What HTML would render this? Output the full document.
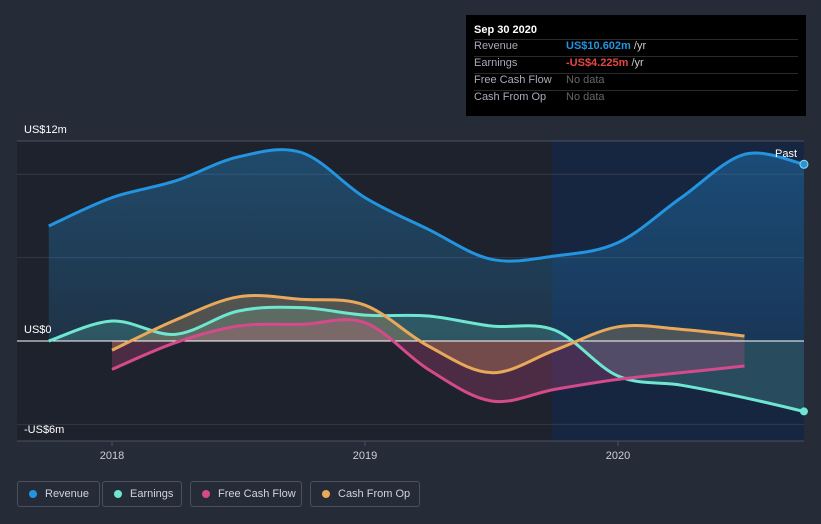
<!DOCTYPE html>
<html><head><meta charset="utf-8"><style>
body{margin:0;background:#262b38;font-family:"Liberation Sans",sans-serif;}
#wrap{position:relative;width:821px;height:524px;overflow:hidden;background:#262b38;}
svg{position:absolute;left:0;top:0}
.tt{position:absolute;left:466px;top:15px;width:340px;height:101px;background:#000;color:#fff;font-size:11px}
.tt .r{position:absolute;left:8px;height:17px;width:324px;border-top:1px solid #2a2a2a}
.tt .r span{position:absolute;left:92px}
.leg{position:absolute;top:481px;height:26px;border:1px solid #4a5060;border-radius:3px;color:#d0d4dc;font-size:11px;line-height:24px;box-sizing:border-box;padding-left:27px;white-space:nowrap}
.leg i{position:absolute;left:11px;top:8px;width:8px;height:8px;border-radius:50%}
</style></head><body>
<div id="wrap">
<svg id="chart" width="821" height="524"></svg>
<div class="tt">
 <div style="position:absolute;left:8px;top:9px;font-weight:bold">Sep 30 2020</div>
 <div class="r" style="top:24px;color:#aab">Revenue<span style="color:#2394df;font-weight:bold">US$10.602m <b style="color:#ccc;font-weight:normal">/yr</b></span></div>
 <div class="r" style="top:41px;color:#aab">Earnings<span style="color:#e64545;font-weight:bold">-US$4.225m <b style="color:#ccc;font-weight:normal">/yr</b></span></div>
 <div class="r" style="top:58px;color:#aab">Free Cash Flow<span style="color:#666">No data</span></div>
 <div class="r" style="top:75px;color:#aab">Cash From Op<span style="color:#666">No data</span></div>
</div>
<div class="leg" style="left:17px;width:83px"><i style="background:#2394df"></i>Revenue</div>
<div class="leg" style="left:102px;width:80px"><i style="background:#6ee6d0"></i>Earnings</div>
<div class="leg" style="left:190px;width:112px"><i style="background:#d44a8a"></i>Free Cash Flow</div>
<div class="leg" style="left:310px;width:110px"><i style="background:#e8a95a"></i>Cash From Op</div>
</div>
<script>
const revT=[2017.75,2018,2018.25,2018.5,2018.75,2019,2019.25,2019.5,2019.75,2020,2020.25,2020.5,2020.735];
const revenue=[6.9,8.6,9.6,11.05,11.3,8.6,6.7,4.9,5.1,5.9,8.6,11.2,10.602];
const earnings=[0,1.2,0.4,1.8,2.0,1.55,1.5,0.9,0.65,-2.1,-2.65,-3.4,-4.225];
const cfT=[2018,2018.25,2018.5,2018.75,2019,2019.25,2019.5,2019.75,2020,2020.25,2020.5];
const fcf=[-1.7,-0.1,0.9,1.0,1.1,-1.7,-3.6,-2.9,-2.3,-1.9,-1.5];
const cfo=[-0.55,1.25,2.65,2.5,2.15,-0.3,-1.9,-0.55,0.85,0.7,0.3];
const yTicks=[12,0,-6];const yLabels=["US$12m","US$0","-US$6m"];
const xTicks=[2018,2019,2020];
const X=t=>112+(t-2018)*253, Y=v=>341-v*16.67;
const svg=document.getElementById('chart');const NS='http://www.w3.org/2000/svg';
function el(tag,a,p){const e=document.createElementNS(NS,tag);for(const k in a)e.setAttribute(k,a[k]);(p||svg).appendChild(e);return e;}
function path(ts,vs){const p=ts.map((t,i)=>[X(t),Y(vs[i])]);let d='M'+p[0];for(let i=0;i<p.length-1;i++){const p0=p[i-1]||p[i],p1=p[i],p2=p[i+1],p3=p[i+2]||p2;d+=` C${p1[0]+(p2[0]-p0[0])/6},${p1[1]+(p2[1]-p0[1])/6} ${p2[0]-(p3[0]-p1[0])/6},${p2[1]-(p3[1]-p1[1])/6} ${p2[0]},${p2[1]}`;}return d;}
const defs=el('defs',{});
const g=el('linearGradient',{id:'rg',x1:0,y1:0,x2:0,y2:1},defs);el('stop',{offset:0,'stop-color':'#2394df','stop-opacity':0.35},g);el('stop',{offset:1,'stop-color':'#2394df','stop-opacity':0.15},g);
let r=el('rect',{x:17,y:141,width:535,height:300,fill:'#1e222c'});
r=el('rect',{x:552,y:141,width:252,height:300,fill:'#172640'});
[12,10,5,0,-5,-6].forEach(v=>{const l=el('line',{x1:17,x2:804,y1:Y(v),y2:Y(v),stroke:v==12||v==-6?'#4a5060':'#343a48','stroke-width':1});});
function area(ts,vs,fill,op,name){const d=path(ts,vs)+` L${X(ts[ts.length-1])},${Y(0)} L${X(ts[0])},${Y(0)} Z`;const a=el('path',{d,fill,'fill-opacity':op});}
area(revT,revenue,'url(#rg)',1,'revenue-area');
area(revT,earnings,'#6ee6d0',0.2,'earnings-area');
area(cfT,fcf,'#d44a8a',0.25,'fcf-area');
area(cfT,cfo,'#e8a95a',0.25,'cfo-area');
const z=el('line',{x1:17,x2:804,y1:Y(0),y2:Y(0),stroke:'#fff','stroke-width':1});
function line(ts,vs,c,name){const l=el('path',{d:path(ts,vs),fill:'none',stroke:c,'stroke-width':3});}
line(revT,revenue,'#2394df','revenue-line');line(revT,earnings,'#6ee6d0','earnings-line');line(cfT,fcf,'#d44a8a','fcf-line');line(cfT,cfo,'#e8a95a','cfo-line');
let c=el('circle',{cx:X(revT[12]),cy:Y(revenue[12]),r:4,fill:'#2394df',stroke:'#9dd',"stroke-width":1});
c=el('circle',{cx:X(revT[12]),cy:Y(earnings[12]),r:4,fill:'#6ee6d0'});
yTicks.forEach((v,i)=>{const t=el('text',{x:24,y:v==-6?433:Y(v)-8,fill:'#fff','font-size':11});t.textContent=yLabels[i];});
xTicks.forEach(v=>{const l=el('line',{x1:X(v),x2:X(v),y1:441,y2:446,stroke:'#4a5060'});const t=el('text',{x:X(v),y:459,fill:'#ccd','font-size':11,'text-anchor':'middle'});t.textContent=v;});
const p=el('text',{x:797,y:157,fill:'#fff','font-size':11,'text-anchor':'end'});p.textContent='Past';
</script>
</body></html>
